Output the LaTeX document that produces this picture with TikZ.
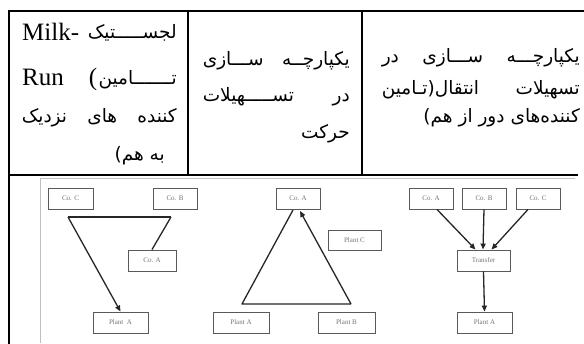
\documentclass[tikz,border=0pt]{standalone}
\usepackage{fontspec}
\setmainfont{Liberation Serif}
\newfontfamily\fa[Script=Arabic]{DejaVu Sans}
\TeXXeTstate=1
\usetikzlibrary{arrows.meta,calc}
\begin{document}
\begin{tikzpicture}[x=1pt,y=-1pt,
  box/.style={draw=black!65, line width=0.9pt, fill=white, inner sep=0pt,
    minimum height=21pt, font=\fontsize{7}{8}\selectfont, text=black!55},
  conn/.style={draw=black!85, line width=1.3pt},
  arr/.style={conn, -{Triangle[length=6pt,width=5pt]}},
  rule/.style={line width=1.4pt},
  fatext/.style={font=\fa\fontsize{18.5}{20}\selectfont, inner sep=0pt},
  latext/.style={font=\fontsize{25}{28}\selectfont, inner sep=0pt}]
\useasboundingbox (0,0) rectangle (584,343);
% table rules
\draw[line width=2pt] (9,350) -- (9,11) -- (590,11);
\draw[rule] (9,175) -- (578,175);
\draw[rule] (188,11) -- (188,175);
\draw[rule] (362,11) -- (362,175);
% column 1
\node[latext, anchor=base west] (c1a) at (22,40) {Milk-};
\node[fatext, anchor=base east] (c1b) at (177,38) {\beginR لجســـــتیک\endR};
\node[latext, anchor=base west] (c1c) at (22,85) {Run};
\node[fatext, anchor=base east] (c1d) at (177,84) {\beginR تـــــــامین\endR};
\node[latext, anchor=base east] (c1p) at ($(c1d.base west)+(-1,1)$) {(};
\node[fatext, anchor=base east] (c1e) at (177,122) {\hbox to 155pt{\beginR کننده\hfill های\hfill نزدیک\endR}};
\node[fatext, anchor=base east] (c1f) at (165,160) {\beginR به هم)\endR};
% column 2
\node[fatext, anchor=base east] (c2a) at (350,65) {\hbox to 147pt{\beginR یکپارچــه\hfill ســـازی\endR}};
\node[fatext, anchor=base east] (c2b) at (350,101) {\hbox to 147pt{\beginR در\hfill تســـــهیلات\endR}};
\node[fatext, anchor=base east] (c2c) at (350,138) {\beginR حرکت\endR};
% column 3
\node[fatext, anchor=base east] (c3a) at (580,62) {\hbox to 198pt{\beginR یکپارچـــه\hfill ســـازی\hfill در\endR}};
\node[fatext, anchor=base east] (c3b) at (580,94) {\hbox to 198pt{\beginR تسهیلات\hfill انتقال(تـامین\endR}};
\node[fatext, anchor=base east] (c3c) at (580,122) {\beginR کننده‌های دور از هم)\endR};
% embedded figure frame
\draw[black!25, line width=0.6pt] (40,343) -- (40,178) -- (575,178);
% panel 1
\node[box, minimum width=45pt] (coc1) at (70.5,198.5) {Co. C};
\node[box, minimum width=44pt] (cob1) at (175,198.5) {Co. B};
\node[box, minimum width=48pt] (coa1) at (152,260.5) {Co. A};
\node[box, minimum width=55pt] (pla1) at (120.5,322.5) {Plant\ \ A};
\coordinate (j1) at (68,217);
\coordinate (j2) at (171,217);
\draw[conn] (j2) -- (j1);
\draw[conn] (j2) -- (coa1.north);
\draw[arr] (j1) -- (pla1.north);
% panel 2
\node[box, minimum width=44pt] (coa2) at (298,198.5) {Co. A};
\node[box, minimum width=53pt, minimum height=20pt] (plc2) at (354.5,240) {Plant C};
\node[box, minimum width=56pt] (pla2) at (241,322.5) {Plant A};
\node[box, minimum width=57pt] (plb2) at (346.5,322.5) {Plant B};
\coordinate (t0) at (293,210);
\coordinate (t1) at (242,304);
\coordinate (t2) at (351,304);
\coordinate (t3) at (300,211);
\draw[conn, line join=round] (t0) -- (t1) -- (t2);
\draw[arr] (t2) -- (t3);
% panel 3
\node[box, minimum width=44pt] (coa3) at (431,198.5) {Co. A};
\node[box, minimum width=44pt] (cob3) at (484,198.5) {Co. B};
\node[box, minimum width=44pt] (coc3) at (538,198.5) {Co. C};
\node[box, minimum width=53pt] (trf) at (483.5,260.5) {Transfer};
\node[box, minimum width=55pt] (pla3) at (484.5,322.5) {Plant A};
\draw[arr] ($(coa3.south)+(6,0)$) -- ($(trf.north)+(-8,0)$);
\draw[arr] (cob3.south) -- ($(trf.north)+(-0.5,0)$);
\draw[arr] ($(coc3.south)+(-10,0)$) -- ($(trf.north)+(8,0)$);
\draw[arr] (trf.south) -- (pla3.north);
\end{tikzpicture}
\end{document}
